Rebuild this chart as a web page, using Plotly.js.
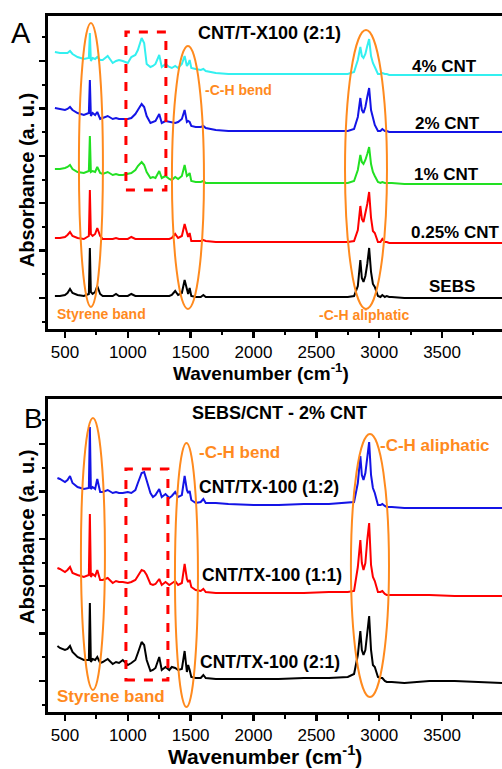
<!DOCTYPE html>
<html><head><meta charset="utf-8">
<script src="https://cdn.plot.ly/plotly-3.0.1.min.js"></script>
<style>html,body{margin:0;padding:0;background:#fff}</style>
</head><body><div id="chart" style="width:502px;height:769px"></div>
<script>
// Wavenumber grids (cm^-1)
const wnA = [420,460,500,520,540,560,600,650,690,698,706,720,740,757,780,800,840,880,906,930,960,1000,1028,1060,1080,1110,1130,1150,1180,1200,1220,1250,1270,1300,1330,1350,1377,1400,1430,1452,1470,1480,1492,1505,1540,1580,1601,1620,1700,1800,2000,2200,2400,2600,2750,2800,2830,2850,2862,2875,2890,2905,2920,2935,2950,2965,2990,3010,3025,3045,3060,3080,3100,3200,3400,3600,3800,3977];
const wnB = [440,460,500,520,540,560,600,650,690,698,706,720,740,757,780,800,840,880,906,930,960,1000,1028,1060,1080,1110,1130,1150,1180,1200,1220,1250,1270,1300,1330,1350,1377,1400,1430,1452,1470,1480,1492,1505,1540,1580,1601,1620,1700,1800,2000,2200,2400,2600,2750,2800,2830,2850,2862,2875,2890,2905,2920,2935,2950,2965,2990,3010,3025,3045,3060,3080,3100,3200,3400,3600,3800,3977];

// Panel A: absorbance (a.u., stacked as drawn)
const sebsA = [26,26,27,29,33,29,27,26,28,74, 30,28,30,36,28,26,26,26,28,26, 26,26,28,26,26,26,26,26,26,26, 26,26,26,26,26,27,31,27,29,42, 32,28,34,26,25,25,27,25,25,25, 25,25,25,25,25,26,36,62,44,40, 46,58,74,50,38,35,26,25,27,25, 26,25,25,24,24,24,24,24];
const cnt025A = [84,84,85,87,90,86,84,83,86,132, 88,86,88,94,86,83,83,83,84,83, 83,83,85,83,83,83,83,83,83,83, 83,83,83,83,83,84,88,84,86,98, 88,85,89,81,81,81,82,81,80,80, 80,80,80,80,80,81,92,116,103,100, 108,118,130,104,91,89,80,80,83,80, 80,79,79,79,79,79,79,79];
const cnt1A = [153,153,154,155,157,153,150,149,151,186, 150,151,150,155,149,148,150,147,148,147, 147,148,149,152,156,160,157,150,144,145, 144,151,144,146,143,142,145,143,146,157, 146,147,149,141,140,140,141,139,139,139, 139,139,139,139,139,141,152,167,160,158, 162,168,175,158,150,146,140,139,140,139, 139,139,139,138,138,138,138,138];
const cnt2A = [214,213,212,213,215,212,209,207,209,242, 206,209,207,210,203,204,206,203,204,203, 203,203,204,208,212,218,215,206,199,200, 201,208,199,201,200,200,199,200,203,212, 200,201,200,196,195,195,196,194,192,191, 191,191,191,191,191,193,205,224,212,209, 215,225,234,212,204,197,191,191,193,191, 191,190,190,190,190,190,190,190];
const cnt4A = [270,269,269,269,271,268,265,263,264,289, 261,264,263,265,262,262,266,259,261,262, 261,259,265,267,272,284,279,258,255,256, 258,267,255,258,255,254,256,254,258,266, 256,258,262,254,253,252,253,251,249,248, 248,248,248,248,248,250,262,275,266,264, 268,276,283,266,259,255,248,248,249,248, 248,247,247,247,247,247,247,247];

// Panel B
const tx12B = [227,226,223,225,229,222,218,216,217,278, 216,218,216,226,213,213,215,212,213,212, 212,213,212,215,222,232,233,225,212,208, 210,216,208,211,207,209,213,208,210,229, 215,212,214,205,202,203,206,202,202,201, 200,200,201,201,202,203,222,249,230,225, 232,248,263,230,217,212,200,200,201,199, 198,198,198,197,197,197,197,197];
const tx11B = [137,136,133,135,138,132,130,128,130,191, 128,131,129,135,125,125,127,122,124,123, 123,122,123,125,129,135,134,130,121,120, 121,126,120,123,120,122,124,120,122,141, 126,123,125,118,115,114,116,113,112,112, 112,112,112,113,113,114,138,165,142,135, 142,165,182,140,128,124,113,113,114,111, 110,110,110,110,110,109,109,109];
const tx21B = [59,57,55,56,59,53,48,45,45,102, 43,46,45,48,42,43,46,41,43,42, 45,40,42,45,52,63,60,45,34,35, 37,48,35,38,35,38,37,35,36,54, 33,40,35,28,27,27,30,27,26,26, 26,26,27,27,28,31,50,74,55,50, 55,75,89,55,40,38,28,27,27,24, 23,23,23,22,24,24,23,22];

const labelsA = ['SEBS','0.25% CNT','1% CNT','2% CNT','4% CNT'];
const labelsB = ['CNT/TX-100 (2:1)','CNT/TX-100 (1:1)','CNT/TX-100 (1:2)'];
const xTicks = [500,1000,1500,2000,2500,3000,3500];

const FONT = 'Arial, "Liberation Sans", sans-serif';
const ORANGE = '#FF8A1E';
const seriesA = [sebsA, cnt025A, cnt1A, cnt2A, cnt4A];
const colorsA = ['#000000','#FF0000','#22E022','#1414E6','#33F0F0'];
const seriesB = [tx21B, tx11B, tx12B];
const colorsB = ['#000000','#FF0000','#1414E6'];

const traces = [];
seriesA.forEach((s,i)=>traces.push({x:wnA,y:s,type:'scatter',mode:'lines',name:labelsA[i],line:{color:colorsA[i],width:2},xaxis:'x',yaxis:'y',hoverinfo:'skip'}));
seriesB.forEach((s,i)=>traces.push({x:wnB,y:s,type:'scatter',mode:'lines',name:labelsB[i],line:{color:colorsB[i],width:2},xaxis:'x2',yaxis:'y2',hoverinfo:'skip'}));

function xax(anchor){return {anchor:anchor, range:[365,3977], showline:true, linewidth:3, linecolor:'#000', mirror:true,
  tickmode:'array', tickvals:xTicks, ticktext:xTicks.map(String), ticks:'outside', ticklen:6, tickwidth:2.5, tickcolor:'#000',
  minor:{dtick:250, tick0:0, ticks:'outside', ticklen:3.5, tickwidth:2, tickcolor:'#000'},
  showgrid:false, zeroline:false, tickfont:{family:FONT,size:17,color:'#000'}};}
function yax(anchor,domain){return {anchor:anchor, domain:domain, range:[-7,306], showline:true, linewidth:3, linecolor:'#000', mirror:false,
  tick0:23.75, dtick:47.5, ticks:'outside', ticklen:6, tickwidth:2.5, tickcolor:'#000',
  minor:{tick0:0, dtick:23.75, ticks:'outside', ticklen:3.5, tickwidth:2, tickcolor:'#000'},
  showticklabels:false, showgrid:false, zeroline:false};}

function ann(text,x,y,xref,yref,size,color,xanchor,extra){return Object.assign({text:text,x:x,y:y,xref:xref,yref:yref,showarrow:false,
  font:{family:FONT,size:size,color:color},xanchor:xanchor||'center',yanchor:'middle'},extra||{});}

const annotations = [
  ann('A',-0.0595,0.9756,'paper','paper',29,'#000'),
  ann('B',-0.033,0.4224,'paper','paper',28,'#000'),
  ann('<b>Absorbance (a. u.)</b>',-0.0463,0.764,'paper','paper',20,'#000','center',{textangle:-90}),
  ann('<b>Absorbance (a. u.)</b>',-0.0463,0.2514,'paper','paper',20,'#000','center',{textangle:-90}),
  ann('<b>Wavenumber (cm<sup>-1</sup>)</b>',0.470,0.4885,'paper','paper',19,'#000'),
  ann('<b>Wavenumber (cm<sup>-1</sup>)</b>',0.478,-0.0618,'paper','paper',21,'#000'),
  ann('<b>CNT/T-X100 (2:1)</b>',2131,289,'x','y',18,'#000'),
  ann('<b>SEBS/CNT - 2% CNT</b>',2210,292,'x2','y2',18,'#000'),
  ann('<b>'+labelsA[4]+'</b>',3523,256,'x','y',17,'#000'),
  ann('<b>'+labelsA[3]+'</b>',3543,199,'x','y',17,'#000'),
  ann('<b>'+labelsA[2]+'</b>',3539,148,'x','y',17,'#000'),
  ann('<b>'+labelsA[1]+'</b>',3606,89,'x','y',17,'#000'),
  ann('<b>'+labelsA[0]+'</b>',3583,35,'x','y',17,'#000'),
  ann('<b>-C-H bend</b>',1598,232,'x','y',14,ORANGE,'left'),
  ann('<b>Styrene band</b>',420,8,'x','y',14,ORANGE,'left'),
  ann('<b>-C-H aliphatic</b>',2505,7,'x','y',14,ORANGE,'left'),
  ann('<b>'+labelsB[2]+'</b>',1550,218,'x2','y2',17.5,'#000','left'),
  ann('<b>'+labelsB[1]+'</b>',1574,130,'x2','y2',17.5,'#000','left'),
  ann('<b>'+labelsB[0]+'</b>',1558,43,'x2','y2',17.5,'#000','left'),
  ann('<b>-C-H bend</b>',1550,253,'x2','y2',17,ORANGE,'left'),
  ann('<b>-C-H aliphatic</b>',2990,260,'x2','y2',17,ORANGE,'left'),
  ann('<b>Styrene band</b>',420,8,'x2','y2',17,ORANGE,'left')
];

function ell(xr,yr,x0,x1,y0,y1){return {type:'circle',xref:xr,yref:yr,x0:x0,x1:x1,y0:y0,y1:y1,line:{color:ORANGE,width:2},layer:'above'};}
function box(xr,yr,x0,x1,y0,y1){return {type:'rect',xref:xr,yref:yr,x0:x0,x1:x1,y0:y0,y1:y1,line:{color:'#FF0000',width:3,dash:'dash'},layer:'above'};}
const shapes = [
  ell('x','y',611,802,15,299), ell('x','y',1351,1606,13,276), ell('x','y',2728,3062,13,292),
  box('x','y',985,1303,132,290),
  ell('x2','y2',627,818,15,287), ell('x2','y2',1375,1558,-2,262), ell('x2','y2',2775,3078,8,271),
  box('x2','y2',985,1319,25,236)
];

const layout = {width:502, height:769, margin:{l:48,r:0,t:16,b:57}, paper_bgcolor:'#fff', plot_bgcolor:'#fff', showlegend:false,
  xaxis:xax('y'), yaxis:yax('x',[0.5503,1]), xaxis2:xax('y2'), yaxis2:yax('x2',[0,0.4497]),
  annotations:annotations, shapes:shapes};
Plotly.newPlot('chart', traces, layout, {staticPlot:true, displayModeBar:false});
</script></body></html>
